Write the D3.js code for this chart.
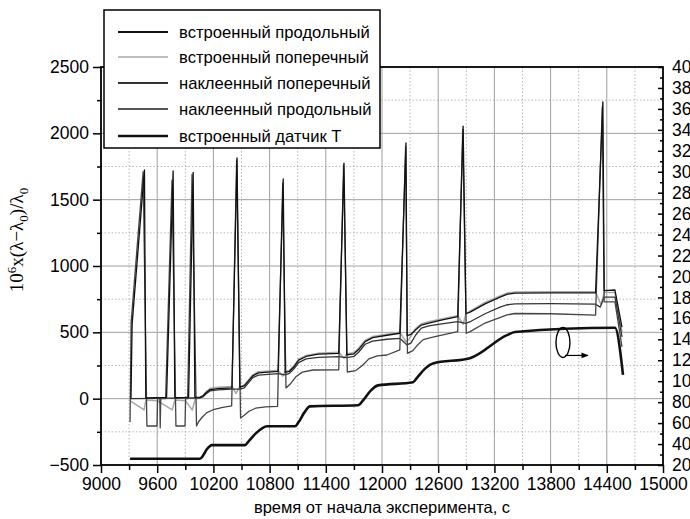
<!DOCTYPE html>
<html><head><meta charset="utf-8">
<script src="https://cdn.jsdelivr.net/npm/d3@7"></script>
<style>body{margin:0;background:#fff}svg{display:block}</style>
</head><body><svg id="c" width="690" height="519"></svg>
<script>
// ---------- data ----------
const xTicks = [9000, 9600, 10200, 10800, 11400, 12000, 12600, 13200, 13800, 14400, 15000];
const xMinor = [9300, 9900, 10500, 11100, 11700, 12300, 12900, 13500, 14100, 14700];
const yTicks = [-500, 0, 500, 1000, 1500, 2000, 2500];
const yMinor = [-250, 250, 750, 1250, 1750, 2250];
const rTicks = [20, 40, 60, 80, 100, 120, 140, 160, 180, 200, 220, 240, 260, 280, 300, 320, 340, 360, 380, 400];
const rMinor = [30, 50, 70, 90, 110, 130, 150, 170, 190, 210, 230, 250, 270, 290, 310, 330, 350, 370, 390];
const legendLabels = ["встроенный продольный", "встроенный поперечный", "наклеенный поперечный", "наклеенный продольный", "встроенный датчик T"];
const xTitle = "время от начала эксперимента, с";

// [time, strain] встроенный продольный
const builtLong = [[9320,0],[9332,560],[9464,1724],[9478,5],[9600,8],[9700,10],[9770,1716],[9788,8],[9900,10],[9935,12],[9984,1705],[10002,10],[10057,12],[10090,22],[10120,45],[10165,68],[10250,76],[10398,82],[10452,1814],[10482,85],[10530,98],[10570,130],[10620,172],[10680,194],[10890,206],[10945,1656],[10966,198],[11010,205],[11060,240],[11110,290],[11190,318],[11320,335],[11538,342],[11594,1776],[11624,330],[11700,338],[11750,370],[11820,430],[11900,460],[12053,478],[12190,493],[12256,1927],[12268,475],[12310,485],[12360,520],[12420,555],[12500,570],[12620,590],[12808,618],[12866,2055],[12896,640],[12940,652],[13100,715],[13260,765],[13340,788],[13420,796],[13800,797],[14280,797],[14358,2236],[14372,815],[14487,819],[14562,540]];
// встроенный поперечный
const builtTrans = [[9320,-20],[9460,-85],[9480,-10],[9600,-15],[9760,-85],[9790,-10],[9900,-15],[9975,-85],[10004,-5],[10057,10],[10090,22],[10120,50],[10165,78],[10250,86],[10400,92],[10440,40],[10482,88],[10530,104],[10570,138],[10620,180],[10680,203],[10890,214],[10940,170],[10966,205],[11010,212],[11060,250],[11110,298],[11190,326],[11320,343],[11538,350],[11594,304],[11624,338],[11700,346],[11750,380],[11820,440],[11900,468],[12053,486],[12190,500],[12256,430],[12290,450],[12360,530],[12420,564],[12500,580],[12620,598],[12808,625],[12866,560],[12896,640],[12940,660],[13100,725],[13260,775],[13340,797],[13420,804],[13800,806],[14280,806],[14340,706],[14372,800],[14487,800],[14562,500]];
// наклеенный поперечный
const gluedTrans = [[9320,0],[9600,2],[9900,5],[10057,5],[10090,14],[10120,35],[10165,58],[10250,66],[10398,72],[10482,72],[10530,82],[10570,115],[10620,158],[10680,178],[10890,188],[10966,180],[11010,190],[11060,225],[11110,272],[11190,300],[11320,312],[11538,317],[11624,310],[11700,318],[11750,350],[11820,410],[11900,434],[12053,448],[12190,455],[12268,405],[12310,420],[12360,480],[12420,532],[12500,548],[12620,562],[12808,580],[12896,568],[12940,580],[13100,640],[13260,690],[13340,708],[13420,714],[13800,716],[14280,712],[14330,690],[14372,766],[14487,766],[14562,465]];
// наклеенный продольный
const gluedLong = [[9310,-176],[9322,580],[9450,1711],[9490,-206],[9598,-206],[9604,0],[9628,0],[9632,-220],[9638,0],[9690,0],[9758,1648],[9800,-206],[9897,-206],[9903,0],[9925,0],[9972,1690],[10020,-206],[10040,-176],[10080,-140],[10130,-105],[10210,-80],[10300,-65],[10395,-55],[10448,1800],[10490,-146],[10530,-125],[10580,-95],[10650,-72],[10760,-62],[10885,-58],[10940,1625],[10975,81],[11020,110],[11080,165],[11150,200],[11263,216],[11538,218],[11590,1760],[11630,201],[11720,212],[11790,250],[11860,300],[11950,322],[12053,329],[12190,367],[12252,1900],[12272,342],[12330,362],[12380,405],[12440,445],[12520,460],[12650,480],[12808,505],[12862,2030],[12900,493],[12940,505],[13100,570],[13335,631],[13420,642],[13800,640],[14280,630],[14352,2200],[14372,729],[14487,729],[14562,390]];
// [time, temperature] встроенный датчик T (right axis)
const tempT = [[9310,26],[10057,26],[10090,29],[10130,35],[10185,39],[10537,39],[10580,43],[10650,50],[10720,55],[10772,57],[11071,57],[11110,61],[11170,70],[11231,76],[11744,77],[11800,82],[11880,91],[11957,96],[12331,99],[12380,104],[12460,112],[12544,117],[12939,122],[13334,144],[13420,147],[14487,151],[14573,106]];
// annotation: ellipse around T curve, arrow to the right axis
const noteAt = [13932, 137];
const noteArrowTo = 14199;

// ---------- drawing ----------
const svg = d3.select("#c");
const L = 101, R = 663, T = 67, B = 465;
const x = d3.scaleLinear([9000, 15000], [L, R]);
const y = d3.scaleLinear([-500, 2500], [B, T]);
const yr = d3.scaleLinear([20, 400], [B, T]);
const sans = "'Liberation Sans', Arial, sans-serif";

// grid
const g = svg.append("g");
g.selectAll(".gm").data(xMinor).join("line").attr("x1", d => x(d)).attr("x2", d => x(d)).attr("y1", T).attr("y2", B)
  .attr("stroke", "#b8b8b8").attr("stroke-width", 1).attr("stroke-dasharray", "1.5,2");
g.selectAll(".gn").data(yMinor).join("line").attr("y1", d => y(d)).attr("y2", d => y(d)).attr("x1", L).attr("x2", R)
  .attr("stroke", "#b8b8b8").attr("stroke-width", 1).attr("stroke-dasharray", "1.5,2");
g.selectAll(".gx").data(xTicks.slice(1, -1)).join("line").attr("x1", d => x(d)).attr("x2", d => x(d)).attr("y1", T).attr("y2", B)
  .attr("stroke", "#a0a0a0").attr("stroke-width", 1);
g.selectAll(".gy").data(yTicks.slice(1, -1)).join("line").attr("y1", d => y(d)).attr("y2", d => y(d)).attr("x1", L).attr("x2", R)
  .attr("stroke", "#a0a0a0").attr("stroke-width", 1);

// series
const lineS = d3.line().x(d => x(d[0])).y(d => y(d[1]));
const lineT = d3.line().x(d => x(d[0])).y(d => yr(d[1])).curve(d3.curveMonotoneX);
const strain = [
  {data: builtTrans, color: "#a8a8a8", w: 1.5},
  {data: gluedTrans, color: "#333333", w: 1.3},
  {data: gluedLong, color: "#444444", w: 1.3},
  {data: builtLong, color: "#111111", w: 1.3}
];
strain.forEach(s => svg.append("path").attr("d", lineS(s.data)).attr("fill", "none")
  .attr("stroke", s.color).attr("stroke-width", s.w).attr("stroke-linejoin", "round"));
svg.append("path").attr("d", lineT(tempT)).attr("fill", "none").attr("stroke", "#111").attr("stroke-width", 2.6);

// axes
function styleAxis(sel) {
  sel.attr("font-family", sans).attr("font-size", 17.5).attr("color", "#000");
  sel.select(".domain").remove();
  sel.selectAll("line").attr("stroke-width", 1.5);
}
svg.append("g").attr("transform", `translate(0,${B})`)
  .call(d3.axisBottom(x).tickValues(xTicks).tickSize(8).tickPadding(5).tickFormat(d3.format("d"))).call(styleAxis);
svg.append("g").attr("transform", `translate(0,${B})`)
  .call(d3.axisBottom(x).tickValues(xMinor).tickSize(5).tickFormat("")).call(styleAxis);
svg.append("g").attr("transform", `translate(${L},0)`)
  .call(d3.axisLeft(y).tickValues(yTicks).tickSize(8).tickPadding(4).tickFormat(d3.format("d"))).call(styleAxis);
svg.append("g").attr("transform", `translate(${L},0)`)
  .call(d3.axisLeft(y).tickValues(yMinor).tickSize(4).tickFormat("")).call(styleAxis);
svg.append("g").attr("transform", `translate(${R},0)`)
  .call(d3.axisRight(yr).tickValues(rTicks).tickSize(-5).tickPadding(9).tickFormat(d3.format("d"))).call(styleAxis);
svg.append("g").attr("transform", `translate(${R},0)`)
  .call(d3.axisRight(yr).tickValues(rMinor).tickSize(-3).tickFormat("")).call(styleAxis);

// frame
svg.append("rect").attr("x", L).attr("y", T).attr("width", R - L).attr("height", B - T)
  .attr("fill", "none").attr("stroke", "#000").attr("stroke-width", 1.8);

// axis titles
svg.append("text").attr("x", (L + R) / 2).attr("y", 513).attr("text-anchor", "middle")
  .attr("font-family", sans).attr("font-size", 16.5).text(xTitle);
const yt = svg.append("text").attr("transform", "translate(23,240) rotate(-90)").attr("text-anchor", "middle")
  .attr("font-family", "'Liberation Serif', 'Times New Roman', serif").attr("font-size", 19);
yt.append("tspan").text("10");
yt.append("tspan").attr("dy", -7).attr("font-size", 13).text("6");
yt.append("tspan").attr("dy", 7).text("x(λ−λ");
yt.append("tspan").attr("dy", 5).attr("font-size", 13).text("0");
yt.append("tspan").attr("dy", -5).text(")/λ");
yt.append("tspan").attr("dy", 5).attr("font-size", 13).text("0");

// annotation
svg.append("ellipse").attr("cx", x(noteAt[0])).attr("cy", yr(noteAt[1])).attr("rx", 7).attr("ry", 15)
  .attr("fill", "none").attr("stroke", "#000").attr("stroke-width", 1.4);
svg.append("defs").append("marker").attr("id", "ah").attr("viewBox", "0 0 10 10").attr("refX", 9).attr("refY", 5)
  .attr("markerWidth", 6).attr("markerHeight", 6).attr("orient", "auto")
  .append("path").attr("d", "M0,1 L10,5 L0,9 Z").attr("fill", "#000");
svg.append("line").attr("x1", x(noteAt[0]) + 2).attr("x2", x(noteArrowTo)).attr("y1", yr(noteAt[1]) + 13).attr("y2", yr(noteAt[1]) + 13)
  .attr("stroke", "#000").attr("stroke-width", 1.2).attr("marker-end", "url(#ah)");

// legend
const lg = svg.append("g");
lg.append("rect").attr("x", 104).attr("y", 10).attr("width", 276).attr("height", 138)
  .attr("fill", "#fff").attr("stroke", "#000").attr("stroke-width", 1.5);
const legStyle = [
  {color: "#111", w: 2}, {color: "#a8a8a8", w: 1.6}, {color: "#333", w: 2}, {color: "#555", w: 2}, {color: "#111", w: 2.6}
];
const legY = [32, 57, 83, 109, 136];
legendLabels.forEach((lab, i) => {
  lg.append("line").attr("x1", 118).attr("x2", 168).attr("y1", legY[i]).attr("y2", legY[i])
    .attr("stroke", legStyle[i].color).attr("stroke-width", legStyle[i].w);
  lg.append("text").attr("x", 179).attr("y", legY[i] + 5.5).attr("font-family", sans).attr("font-size", 16.6).text(lab);
});
</script></body></html>
